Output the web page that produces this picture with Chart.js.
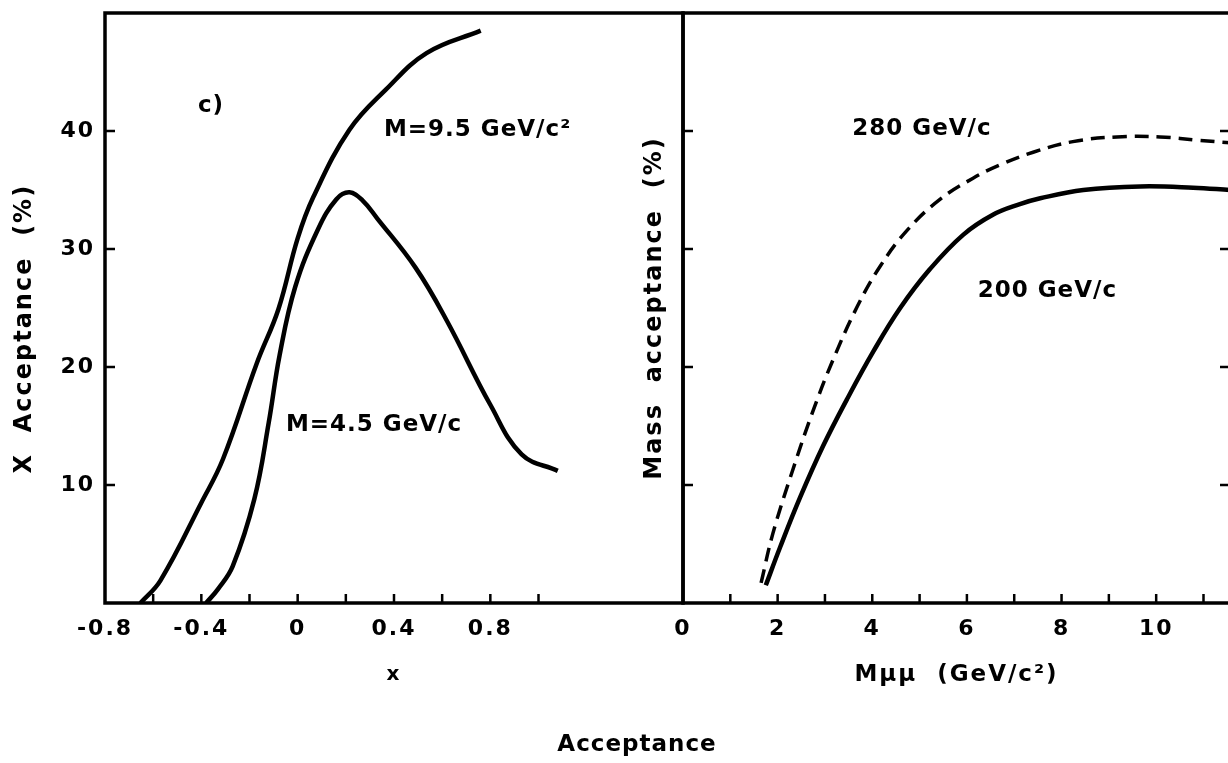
<!DOCTYPE html>
<html>
<head>
<meta charset="utf-8">
<title>Acceptance</title>
<script src="https://cdn.jsdelivr.net/npm/chart.js@4.4.1/dist/chart.umd.min.js"></script>
<style>
    html, body { margin: 0; padding: 0; background: #fff; overflow: hidden; width: 1228px; height: 763px; }
    canvas { position: absolute; top: 0; }
    #leftChart { left: 0; }
    #rightChart { left: 620px; }
</style>
</head>
<body>
<canvas id="leftChart" width="760" height="763"></canvas>
<canvas id="rightChart" width="620" height="763"></canvas>
<script>
// --- left panel: x acceptance ---
const leftXTicks = [-0.8, -0.4, 0, 0.4, 0.8];
const leftXLabels = ['-0.8', '-0.4', '0', '0.4', '0.8'];
const leftXMinor = [-0.6, -0.4, -0.2, 0, 0.2, 0.4, 0.6, 0.8, 1.0];
const leftYTicks = [10, 20, 30, 40];

// M = 9.5 GeV/c^2
const xM95   = [-0.653, -0.57, -0.40, -0.31, -0.17, -0.08, 0.0, 0.065, 0.215, 0.366, 0.535, 0.76];
const accM95 = [0, 1.9, 8.5, 12.2, 20.3, 24.9, 30.9, 34.4, 40.1, 43.5, 46.6, 48.5];

// M = 4.5 GeV/c
const xM45   = [-0.38, -0.33, -0.27, -0.18, -0.12, -0.075, -0.01, 0.085, 0.16, 0.215, 0.27, 0.33, 0.49, 0.62, 0.80, 0.93, 1.08];
const accM45 = [0, 1.2, 3.1, 8.8, 15.3, 21.0, 26.8, 31.7, 34.2, 34.8, 34.1, 32.6, 28.4, 23.9, 16.8, 12.6, 11.2];

// --- right panel: mass acceptance ---
const rightXTicks = [0, 2, 4, 6, 8, 10];
const rightXMinor = [1, 2, 3, 4, 5, 6, 7, 8, 9, 10, 11];
const rightYTicks = [10, 20, 30, 40];

// 200 GeV/c (solid)
const m200   = [1.75, 2.05, 2.47, 2.96, 3.47, 4.02, 4.59, 5.22, 5.92, 6.55, 7.12, 7.55, 8.46, 9.66, 10.78, 11.56];
const acc200 = [1.5, 4.7, 8.9, 13.3, 17.3, 21.3, 25.0, 28.3, 31.2, 32.9, 33.8, 34.3, 35.0, 35.3, 35.2, 35.0];

// 280 GeV/c (dashed)
const m280   = [1.65, 1.9, 2.33, 2.75, 3.17, 3.68, 4.16, 4.74, 5.43, 6.13, 6.68, 7.4, 8.24, 9.17, 10.08, 10.93, 11.56];
const acc280 = [1.7, 5.9, 11.4, 16.3, 20.6, 25.1, 28.5, 31.6, 34.2, 36.0, 37.1, 38.2, 39.1, 39.5, 39.5, 39.2, 39.0];

const FONT = "'DejaVu Sans', 'Liberation Sans', sans-serif";
const INK = '#000';

function pts(xs, ys) {
    return xs.map((x, i) => ({ x: x, y: ys[i] }));
}

function curve(xs, ys, dash) {
    return {
        data: pts(xs, ys),
        borderColor: INK,
        borderWidth: dash ? 3.5 : 4.5,
        borderDash: dash || [],
        pointRadius: 0,
        fill: false,
        tension: 0.4
    };
}

// frame, inward tick marks and the text notes inside the panels
const framePlugin = {
    id: 'frame',
    beforeDraw(chart) {
        chart.ctx.letterSpacing = '2px';
    },
    afterDraw(chart, args, opts) {
        const { ctx, chartArea: a, scales } = chart;
        ctx.save();
        ctx.strokeStyle = INK;
        ctx.lineWidth = 3.5;
        ctx.lineCap = 'square';
        ctx.strokeRect(a.left, a.top, a.right - a.left, a.bottom - a.top);

        ctx.lineWidth = 2.5;
        ctx.lineCap = 'butt';
        ctx.beginPath();
        opts.xTicks.forEach(v => {
            const px = scales.x.getPixelForValue(v);
            ctx.moveTo(px, a.bottom);
            ctx.lineTo(px, a.bottom - 9);
        });
        opts.yTicks.forEach(v => {
            const py = scales.y.getPixelForValue(v);
            ctx.moveTo(a.left, py);
            ctx.lineTo(a.left + 10, py);
            if (opts.rightTicks) {
                ctx.moveTo(a.right, py);
                ctx.lineTo(a.right - 10, py);
            }
        });
        ctx.stroke();

        ctx.fillStyle = INK;
        ctx.textAlign = 'center';
        ctx.textBaseline = 'middle';
        ctx.letterSpacing = '1px';
        opts.notes.forEach(n => {
            ctx.font = 'bold ' + n.size + 'px ' + FONT;
            ctx.fillText(n.text, scales.x.getPixelForValue(n.x), scales.y.getPixelForValue(n.y));
        });
        ctx.restore();
    }
};

const tickFont = { family: FONT, size: 22, weight: 'bold' };

// y axes: fixed width, and no extra room asked for the end labels
function fixY(width) {
    return s => {
        s.width = width;
        s.paddingTop = 0;
        s.paddingBottom = 0;
    };
}

// Left chart
new Chart(document.getElementById('leftChart').getContext('2d'), {
    type: 'line',
    data: {
        datasets: [
            curve(xM95, accM95),
            curve(xM45, accM45)
        ]
    },
    options: {
        responsive: false,
        animation: false,
        layout: { padding: { top: 13, right: 77, left: 0, bottom: 0 } },
        plugins: {
            legend: { display: false },
            tooltip: { enabled: false },
            frame: {
                xTicks: leftXMinor,
                yTicks: leftYTicks,
                rightTicks: false,
                notes: [
                    { text: 'c)', x: -0.36, y: 42.1, size: 23 },
                    { text: 'M=9.5 GeV/c\u00b2', x: 0.747, y: 40.1, size: 23 },
                    { text: 'M=4.5 GeV/c', x: 0.317, y: 15.1, size: 23 },
                    { text: 'Acceptance', x: 1.409, y: -12.0, size: 23 }
                ]
            }
        },
        scales: {
            x: {
                type: 'linear',
                min: -0.8,
                max: 1.6,
                afterBuildTicks: s => { s.ticks = leftXTicks.map(v => ({ value: v })); },
                afterFit: s => { s.height = 160; },
                grid: { display: false, drawTicks: false },
                border: { display: false },
                ticks: {
                    autoSkip: false,
                    maxRotation: 0,
                    padding: 13,
                    color: INK,
                    font: tickFont,
                    callback: (v, i) => leftXLabels[i]
                },
                title: {
                    display: true,
                    text: 'x',
                    color: INK,
                    font: { family: FONT, size: 20, weight: 'bold' },
                    padding: { top: 0, bottom: 76 }
                }
            },
            y: {
                type: 'linear',
                min: 0,
                max: 50,
                afterBuildTicks: s => { s.ticks = leftYTicks.map(v => ({ value: v })); },
                afterFit: fixY(105),
                grid: { display: false, drawTicks: false },
                border: { display: false },
                ticks: { padding: 10, color: INK, font: tickFont },
                title: {
                    display: true,
                    text: 'X  Acceptance  (%)    ',
                    color: INK,
                    font: { family: FONT, size: 24, weight: 'bold' },
                    padding: { top: 10, bottom: 0 }
                }
            }
        }
    },
    plugins: [framePlugin]
});

// Right chart
new Chart(document.getElementById('rightChart').getContext('2d'), {
    type: 'line',
    data: {
        datasets: [
            curve(m280, acc280, [14, 8]),
            curve(m200, acc200)
        ]
    },
    options: {
        responsive: false,
        animation: false,
        layout: { padding: { top: 13, right: 10, left: 0, bottom: 0 } },
        plugins: {
            legend: { display: false },
            tooltip: { enabled: false },
            frame: {
                xTicks: rightXMinor,
                yTicks: rightYTicks,
                rightTicks: true,
                notes: [
                    { text: '280 GeV/c', x: 5.05, y: 40.2, size: 23 },
                    { text: '200 GeV/c', x: 7.70, y: 26.4, size: 23 }
                ]
            }
        },
        scales: {
            x: {
                type: 'linear',
                min: 0,
                max: 11.56,
                afterBuildTicks: s => { s.ticks = rightXTicks.map(v => ({ value: v })); },
                afterFit: s => { s.height = 160; },
                grid: { display: false, drawTicks: false },
                border: { display: false },
                ticks: {
                    autoSkip: false,
                    maxRotation: 0,
                    padding: 13,
                    color: INK,
                    font: tickFont,
                    callback: v => String(v)
                },
                title: {
                    display: true,
                    text: 'M\u03bc\u03bc  (GeV/c\u00b2)',
                    color: INK,
                    font: { family: FONT, size: 23, weight: 'bold' },
                    padding: { top: 0, bottom: 74 }
                }
            },
            y: {
                type: 'linear',
                min: 0,
                max: 50,
                afterBuildTicks: s => { s.ticks = rightYTicks.map(v => ({ value: v })); },
                afterFit: fixY(63),
                grid: { display: false, drawTicks: false },
                border: { display: false },
                ticks: { display: false },
                title: {
                    display: true,
                    text: 'Mass  acceptance  (%)',
                    color: INK,
                    font: { family: FONT, size: 24, weight: 'bold' },
                    padding: { top: 20, bottom: 0 }
                }
            }
        }
    },
    plugins: [framePlugin]
});
</script>
</body>
</html>
